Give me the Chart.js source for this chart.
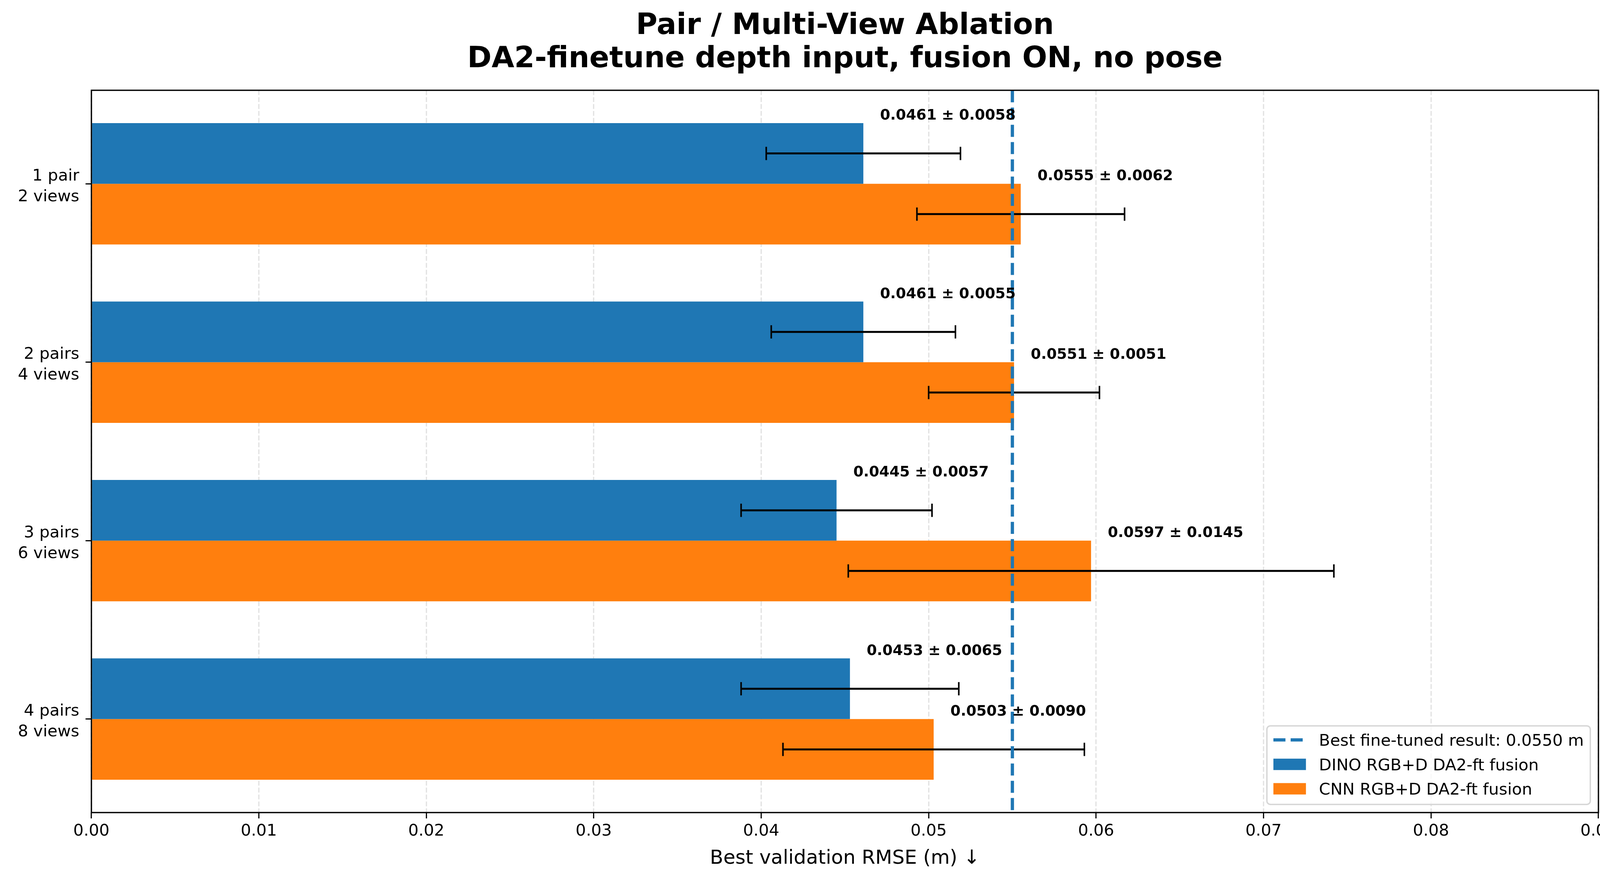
<!DOCTYPE html>
<html>
<head>
<meta charset="utf-8">
<title>Pair / Multi-View Ablation</title>
<script src="https://cdn.jsdelivr.net/npm/chart.js@4.4.1/dist/chart.umd.min.js"></script>
<style>
  html, body { margin: 0; padding: 0; background: #fff; }
  canvas { display: block; }
</style>
</head>
<body>
<canvas id="chart" width="4169" height="2249"></canvas>
<script>
// data
const categories = [['1 pair', '2 views'], ['2 pairs', '4 views'], ['3 pairs', '6 views'], ['4 pairs', '8 views']];
const dinoMean = [0.0461, 0.0461, 0.0445, 0.0453];
const dinoStd = [0.0058, 0.0055, 0.0057, 0.0065];
const cnnMean = [0.0555, 0.0551, 0.0597, 0.0503];
const cnnStd = [0.0062, 0.0051, 0.0145, 0.0090];
const xTicks = [0, 0.01, 0.02, 0.03, 0.04, 0.05, 0.06, 0.07, 0.08, 0.09];
const bestFinetuned = 0.0550;
const seriesNames = ['DINO RGB+D DA2-ft fusion', 'CNN RGB+D DA2-ft fusion'];
const refName = 'Best fine-tuned result: 0.0550 m';
const titleLines = ['Pair / Multi-View Ablation', 'DA2-finetune depth input, fusion ON, no pose'];
const xLabel = 'Best validation RMSE (m) \u2193';

const BLUE = '#1f77b4', ORANGE = '#ff7f0e';
const FONT = '"DejaVu Sans", "Liberation Sans", sans-serif';
const PT = 300 / 72;

const stdByDataset = [dinoStd, cnnStd];
const meanByDataset = [dinoMean, cnnMean];

// error bars, value labels, reference line, frame, legend, titles
const overlay = {
  id: 'overlay',
  afterDraw(chart) {
    const ctx = chart.ctx;
    const xs = chart.scales.x;
    const area = chart.chartArea;

    ctx.save();
    // error bars
    ctx.strokeStyle = '#000';
    [0, 1].forEach(d => {
      const meta = chart.getDatasetMeta(d);
      meta.data.forEach((bar, i) => {
        const m = meanByDataset[d][i], s = stdByDataset[d][i];
        const x0 = xs.getPixelForValue(m - s), x1 = xs.getPixelForValue(m + s);
        ctx.lineWidth = 5;
        ctx.beginPath(); ctx.moveTo(x0, bar.y); ctx.lineTo(x1, bar.y); ctx.stroke();
        ctx.lineWidth = 4;
        [x0, x1].forEach(x => {
          ctx.beginPath(); ctx.moveTo(x, bar.y - 17); ctx.lineTo(x, bar.y + 17); ctx.stroke();
        });
      });
    });

    // reference line
    const rx = xs.getPixelForValue(bestFinetuned);
    ctx.strokeStyle = BLUE;
    ctx.lineWidth = 2 * PT;
    ctx.setLineDash([3.7 * 2 * PT, 1.6 * 2 * PT]);
    ctx.beginPath(); ctx.moveTo(rx, area.top); ctx.lineTo(rx, area.bottom); ctx.stroke();
    ctx.setLineDash([]);

    // value labels
    ctx.fillStyle = '#000';
    ctx.font = 'bold ' + (9 * PT) + 'px ' + FONT;
    ctx.textAlign = 'left';
    ctx.textBaseline = 'alphabetic';
    [0, 1].forEach(d => {
      const meta = chart.getDatasetMeta(d);
      meta.data.forEach((bar, i) => {
        const m = meanByDataset[d][i], s = stdByDataset[d][i];
        const tx = xs.getPixelForValue(m + 0.001);
        const ty = bar.y - bar.height / 2 - 9;
        ctx.fillText(m.toFixed(4) + ' \u00b1 ' + s.toFixed(4), tx, ty);
      });
    });

    // axes frame
    ctx.strokeStyle = '#000';
    ctx.lineWidth = 0.8 * PT;
    ctx.strokeRect(area.left, area.top, area.right - area.left, area.bottom - area.top);

    // legend (lower right)
    const fs = 10 * PT;
    ctx.font = fs + 'px ' + FONT;
    const items = [
      { label: refName, type: 'line', color: BLUE },
      { label: seriesNames[0], type: 'box', color: BLUE },
      { label: seriesNames[1], type: 'box', color: ORANGE }
    ];
    const textW = Math.max(...items.map(it => ctx.measureText(it.label).width));
    const pad = 0.4 * fs, handleW = 2 * fs, gap = 0.8 * fs, rowStep = 1.5 * fs;
    const boxW = pad + handleW + gap + textW + pad;
    const boxH = 201;
    const bx = area.right - 0.5 * fs - boxW;
    const by = area.bottom - 0.5 * fs - boxH;
    ctx.beginPath();
    ctx.roundRect(bx, by, boxW, boxH, 9);
    ctx.fillStyle = 'rgba(255,255,255,0.8)';
    ctx.fill();
    ctx.strokeStyle = '#d6d6d6';
    ctx.lineWidth = 3.5;
    ctx.stroke();
    items.forEach((it, k) => {
      const base = by + 51 + k * rowStep;
      const hx = bx + pad;
      const cy = base - 15;
      if (it.type === 'line') {
        ctx.strokeStyle = it.color;
        ctx.lineWidth = 2 * PT;
        ctx.setLineDash([3.7 * 2 * PT, 1.6 * 2 * PT]);
        ctx.beginPath(); ctx.moveTo(hx, cy); ctx.lineTo(hx + handleW, cy); ctx.stroke();
        ctx.setLineDash([]);
      } else {
        ctx.fillStyle = it.color;
        ctx.fillRect(hx, cy - 0.35 * fs, handleW, 0.7 * fs);
      }
      ctx.fillStyle = '#000';
      ctx.textAlign = 'left';
      ctx.fillText(it.label, hx + handleW + gap, base);
    });

    // titles
    const cx = (area.left + area.right) / 2;
    ctx.textAlign = 'center';
    ctx.fillStyle = '#000';
    ctx.font = 'bold ' + (18 * PT) + 'px ' + FONT;
    ctx.fillText(titleLines[0], cx, 87);
    ctx.fillText(titleLines[1], cx, 172);
    ctx.font = (12 * PT) + 'px ' + FONT;
    ctx.fillText(xLabel, cx, 2210);
    ctx.restore();
  }
};

new Chart(document.getElementById('chart'), {
  type: 'bar',
  data: {
    datasets: [
      {
        label: seriesNames[0],
        data: dinoMean.map((v, i) => ({ x: v, y: i })),
        backgroundColor: BLUE,
        borderWidth: 0
      },
      {
        label: seriesNames[1],
        data: cnnMean.map((v, i) => ({ x: v, y: i })),
        backgroundColor: ORANGE,
        borderWidth: 0
      }
    ]
  },
  options: {
    indexAxis: 'y',
    responsive: false,
    devicePixelRatio: 1,
    animation: false,
    categoryPercentage: 0.68,
    barPercentage: 1.0,
    layout: { padding: { top: 231, right: 77, left: 0, bottom: 0 } },
    plugins: {
      legend: { display: false },
      tooltip: { enabled: false },
      title: { display: false }
    },
    scales: {
      x: {
        type: 'linear',
        min: 0,
        max: 0.09,
        z: 1,
        afterBuildTicks: s => { s.ticks = xTicks.map(v => ({ value: v })); },
        afterFit: s => { s.height = 170; },
        grid: {
          offset: false,
          color: 'rgba(176,176,176,0.35)',
          lineWidth: 0.8 * PT,
          drawTicks: true,
          tickLength: 15,
          tickColor: '#000',
          tickWidth: 3
        },
        border: { display: false, dash: [3.7 * 0.8 * PT, 1.6 * 0.8 * PT] },
        ticks: {
          color: '#000',
          padding: 8,
          maxRotation: 0,
          autoSkip: false,
          font: { family: FONT, size: 10 * PT, lineHeight: 1.2 },
          callback: v => v.toFixed(2)
        }
      },
      y: {
        type: 'linear',
        reverse: true,
        min: -0.524,
        max: 3.524,
        offset: false,
        afterBuildTicks: s => { s.ticks = categories.map((c, i) => ({ value: i })); },
        afterFit: s => { s.width = 234; },
        grid: {
          offset: false,
          drawOnChartArea: false,
          drawTicks: true,
          tickLength: 15,
          tickColor: '#000',
          tickWidth: 3
        },
        border: { display: false },
        ticks: {
          color: '#000',
          padding: 16,
          labelOffset: 7,
          autoSkip: false,
          font: { family: FONT, size: 10 * PT, lineHeight: 1.27 },
          callback: v => categories[v]
        }
      }
    }
  },
  plugins: [overlay]
});
</script>
</body>
</html>
